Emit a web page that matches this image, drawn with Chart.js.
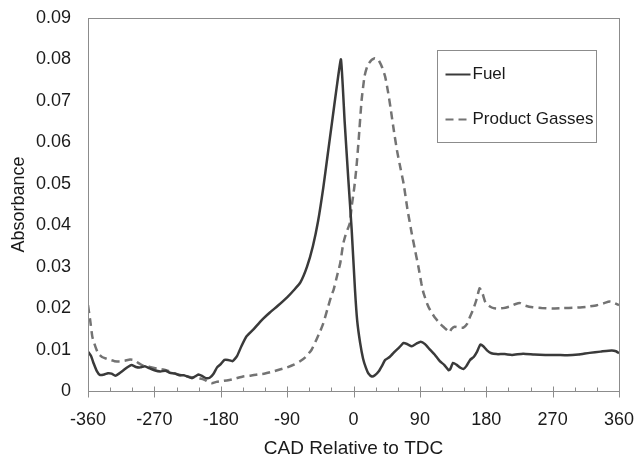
<!DOCTYPE html>
<html lang="en">
<head>
    <meta charset="UTF-8">
    <title>Absorbance vs CAD</title>
    <script src="https://cdn.jsdelivr.net/npm/chart.js"></script>
    <style>
        html, body { margin: 0; padding: 0; background: #fff; }
        #wrap { width: 636px; height: 460px; }
    </style>
</head>
<body>
    <div id="wrap"><canvas id="chartAbs"></canvas></div>

    <script>
        // crank angle (deg) and absorbance
        const fuelAngle = [-360, -356, -352, -348, -344, -338, -333, -328, -323, -318, -312, -306, -301, -295, -289, -283, -277, -270, -262, -255, -249, -242, -236, -230, -224, -219, -214, -210, -205, -200, -195, -190, -185, -180, -175, -170, -164, -158, -152, -145, -135, -125, -113, -103, -90, -80, -72, -63, -55, -48, -41, -35, -29, -23, -17, -12, -7, -2.5, 2, 5, 9, 13, 17, 20, 25, 29, 34, 39, 43, 49, 56, 62, 68, 73, 79, 85, 91, 97, 104, 110, 117, 123, 129, 131, 135, 140, 145, 149, 153, 158, 163, 167, 172, 176, 181, 187, 194, 205, 215, 230, 245, 260, 275, 290, 305, 320, 335, 350, 356, 360];
        const fuelAbs = [0.0095, 0.0085, 0.0065, 0.0048, 0.0039, 0.0040, 0.0043, 0.0042, 0.0037, 0.0042, 0.0050, 0.0058, 0.0063, 0.0058, 0.0057, 0.0060, 0.0055, 0.0050, 0.0047, 0.0049, 0.0044, 0.0042, 0.0038, 0.0038, 0.0034, 0.0031, 0.0036, 0.0040, 0.0036, 0.0031, 0.0032, 0.0041, 0.0057, 0.0065, 0.0075, 0.0075, 0.0072, 0.0084, 0.0108, 0.0132, 0.0150, 0.0170, 0.0190, 0.0205, 0.0226, 0.0245, 0.0262, 0.0300, 0.0350, 0.0410, 0.0490, 0.0570, 0.0650, 0.0730, 0.0800, 0.0650, 0.0510, 0.0390, 0.0245, 0.0170, 0.0116, 0.0078, 0.0055, 0.0043, 0.0035, 0.0038, 0.0047, 0.0062, 0.0075, 0.0082, 0.0095, 0.0105, 0.0116, 0.0113, 0.0108, 0.0114, 0.0119, 0.0113, 0.0099, 0.0088, 0.0072, 0.0063, 0.0050, 0.0052, 0.0068, 0.0063, 0.0056, 0.0053, 0.0060, 0.0075, 0.0082, 0.0093, 0.0112, 0.0108, 0.0098, 0.0091, 0.0089, 0.0089, 0.0087, 0.0090, 0.0088, 0.0087, 0.0087, 0.0086, 0.0088, 0.0092, 0.0095, 0.0098, 0.0096, 0.0091];

        const gasAngle = [-360, -357, -354, -350, -346, -341, -335, -330, -324, -317, -310, -303, -298, -292, -286, -280, -272, -265, -258, -250, -243, -238, -230, -222, -215, -208, -202, -197, -192, -186, -178, -170, -160, -150, -140, -130, -120, -109, -100, -90, -80, -73, -65, -57, -50, -45, -41, -35, -30, -27, -22, -18, -14, -11, -8, -5, -2.5, 1, 4, 7, 11, 15, 19, 24, 29, 34, 39, 43, 47, 50, 55, 59, 64, 68, 73, 79, 84, 88, 92, 95, 100, 104, 110, 117, 123, 128, 130, 133, 137, 143, 149, 154, 158, 163, 167, 171, 175, 179, 185, 190, 196, 203, 212, 220, 226, 233, 243, 255, 270, 284, 300, 315, 330, 340, 347, 353, 360];
        const gasAbs = [0.0207, 0.0170, 0.0130, 0.0107, 0.0090, 0.0082, 0.0078, 0.0075, 0.0072, 0.0071, 0.0073, 0.0076, 0.0075, 0.0068, 0.0062, 0.0060, 0.0056, 0.0054, 0.0052, 0.0048, 0.0043, 0.0040, 0.0037, 0.0034, 0.0032, 0.0030, 0.0027, 0.0022, 0.0019, 0.0022, 0.0024, 0.0026, 0.0030, 0.0035, 0.0037, 0.0040, 0.0042, 0.0047, 0.0052, 0.0057, 0.0064, 0.0071, 0.0082, 0.0099, 0.0125, 0.0145, 0.0163, 0.0200, 0.0230, 0.0244, 0.0280, 0.0308, 0.0355, 0.0375, 0.0390, 0.0405, 0.0445, 0.0490, 0.0540, 0.0606, 0.0702, 0.0760, 0.0785, 0.0798, 0.0803, 0.0798, 0.0780, 0.0758, 0.0720, 0.0686, 0.0625, 0.0580, 0.0535, 0.0500, 0.0440, 0.0380, 0.0335, 0.0300, 0.0260, 0.0236, 0.0210, 0.0195, 0.0178, 0.0163, 0.0153, 0.0145, 0.0142, 0.0150, 0.0155, 0.0153, 0.0153, 0.0162, 0.0179, 0.0200, 0.0222, 0.0248, 0.0235, 0.0213, 0.0204, 0.0200, 0.0199, 0.0200, 0.0204, 0.0210, 0.0212, 0.0206, 0.0202, 0.0200, 0.0199, 0.0200, 0.0201, 0.0203, 0.0207, 0.0212, 0.0216, 0.0213, 0.0207];

        const seriesNames = ['Fuel', 'Product Gasses'];
        const majorTicks = [-360, -270, -180, -90, 0, 90, 180, 270, 360];
        const minorStep = 30;

        const frameColor = '#8c8c8c';
        const textColor = '#1a1a1a';
        const fontFamily = "'Liberation Sans', Arial, sans-serif";

        const toPoints = (xs, ys) => xs.map((x, i) => ({ x: x, y: ys[i] }));

        // frame, x tick marks and the boxed legend
        const decorPlugin = {
            id: 'decor',
            afterDraw(chart) {
                const ctx = chart.ctx;
                const area = chart.chartArea;
                const xs = chart.scales.x;
                ctx.save();
                ctx.strokeStyle = frameColor;
                ctx.lineWidth = 1;
                ctx.strokeRect(Math.round(area.left) + 0.5, Math.round(area.top) + 0.5,
                    Math.round(area.right - area.left), Math.round(area.bottom - area.top));

                // tick marks: majors cross the axis, minors sit inside
                const yb = Math.round(area.bottom) + 0.5;
                ctx.beginPath();
                for (let v = xs.min; v <= xs.max; v += minorStep) {
                    const px = Math.round(xs.getPixelForValue(v)) + 0.5;
                    if (majorTicks.includes(v)) {
                        ctx.moveTo(px, yb - 5);
                        ctx.lineTo(px, yb + 6);
                    } else {
                        ctx.moveTo(px, yb - 4);
                        ctx.lineTo(px, yb);
                    }
                }
                ctx.stroke();

                // legend box
                const bx = Math.round(area.right - 182) + 0.5;
                const by = Math.round(area.top + 32) + 0.5;
                ctx.strokeRect(bx, by, 159, 92);
                ctx.font = '17px ' + fontFamily;
                ctx.fillStyle = textColor;
                ctx.textBaseline = 'middle';
                ctx.textAlign = 'left';
                chart.data.datasets.forEach((ds, i) => {
                    const ly = by + 24 + i * 45;
                    ctx.beginPath();
                    ctx.strokeStyle = ds.borderColor;
                    ctx.lineWidth = 2;
                    ctx.setLineDash(ds.borderDash || []);
                    ctx.moveTo(bx + 8, ly);
                    ctx.lineTo(bx + 33, ly);
                    ctx.stroke();
                    ctx.setLineDash([]);
                    ctx.fillText(ds.label, bx + 35, ly);
                });
                ctx.restore();
            }
        };

        new Chart(document.getElementById('chartAbs'), {
            type: 'line',
            data: {
                datasets: [{
                    label: seriesNames[0],
                    data: toPoints(fuelAngle, fuelAbs),
                    borderColor: '#3a3a3a',
                    borderWidth: 2.5,
                    pointRadius: 0,
                    tension: 0.15,
                    fill: false
                }, {
                    label: seriesNames[1],
                    data: toPoints(gasAngle, gasAbs),
                    borderColor: '#737373',
                    borderWidth: 2.5,
                    borderDash: [8, 5],
                    pointRadius: 0,
                    tension: 0.15,
                    fill: false
                }]
            },
            options: {
                responsive: true,
                maintainAspectRatio: false,
                animation: false,
                layout: { padding: { left: 0, top: 18, right: 17, bottom: 0 } },
                plugins: {
                    legend: { display: false },
                    tooltip: { enabled: false }
                },
                scales: {
                    x: {
                        type: 'linear',
                        min: -360,
                        max: 360,
                        afterFit: s => { s.height = 69; s.paddingLeft = 0; s.paddingRight = 0; },
                        afterBuildTicks: s => { s.ticks = majorTicks.map(v => ({ value: v })); },
                        grid: { display: false, drawTicks: false },
                        border: { display: false },
                        ticks: {
                            padding: 18,
                            maxRotation: 0,
                            color: textColor,
                            font: { family: fontFamily, size: 18 }
                        },
                        title: {
                            display: true,
                            text: 'CAD Relative to TDC',
                            color: textColor,
                            padding: { top: 0, bottom: 0 },
                            font: { family: fontFamily, size: 19 }
                        }
                    },
                    y: {
                        min: 0,
                        max: 0.09,
                        afterFit: s => { s.width = 88; s.paddingTop = 0; s.paddingBottom = 0; },
                        grid: { display: false, drawTicks: false },
                        border: { display: false },
                        ticks: {
                            stepSize: 0.01,
                            padding: 17,
                            color: textColor,
                            font: { family: fontFamily, size: 18 },
                            callback: v => v === 0 ? '0' : v.toFixed(2)
                        },
                        title: {
                            display: true,
                            text: 'Absorbance',
                            color: textColor,
                            padding: { top: 8, bottom: 0 },
                            font: { family: fontFamily, size: 18 }
                        }
                    }
                }
            },
            plugins: [decorPlugin]
        });
    </script>
</body>
</html>
